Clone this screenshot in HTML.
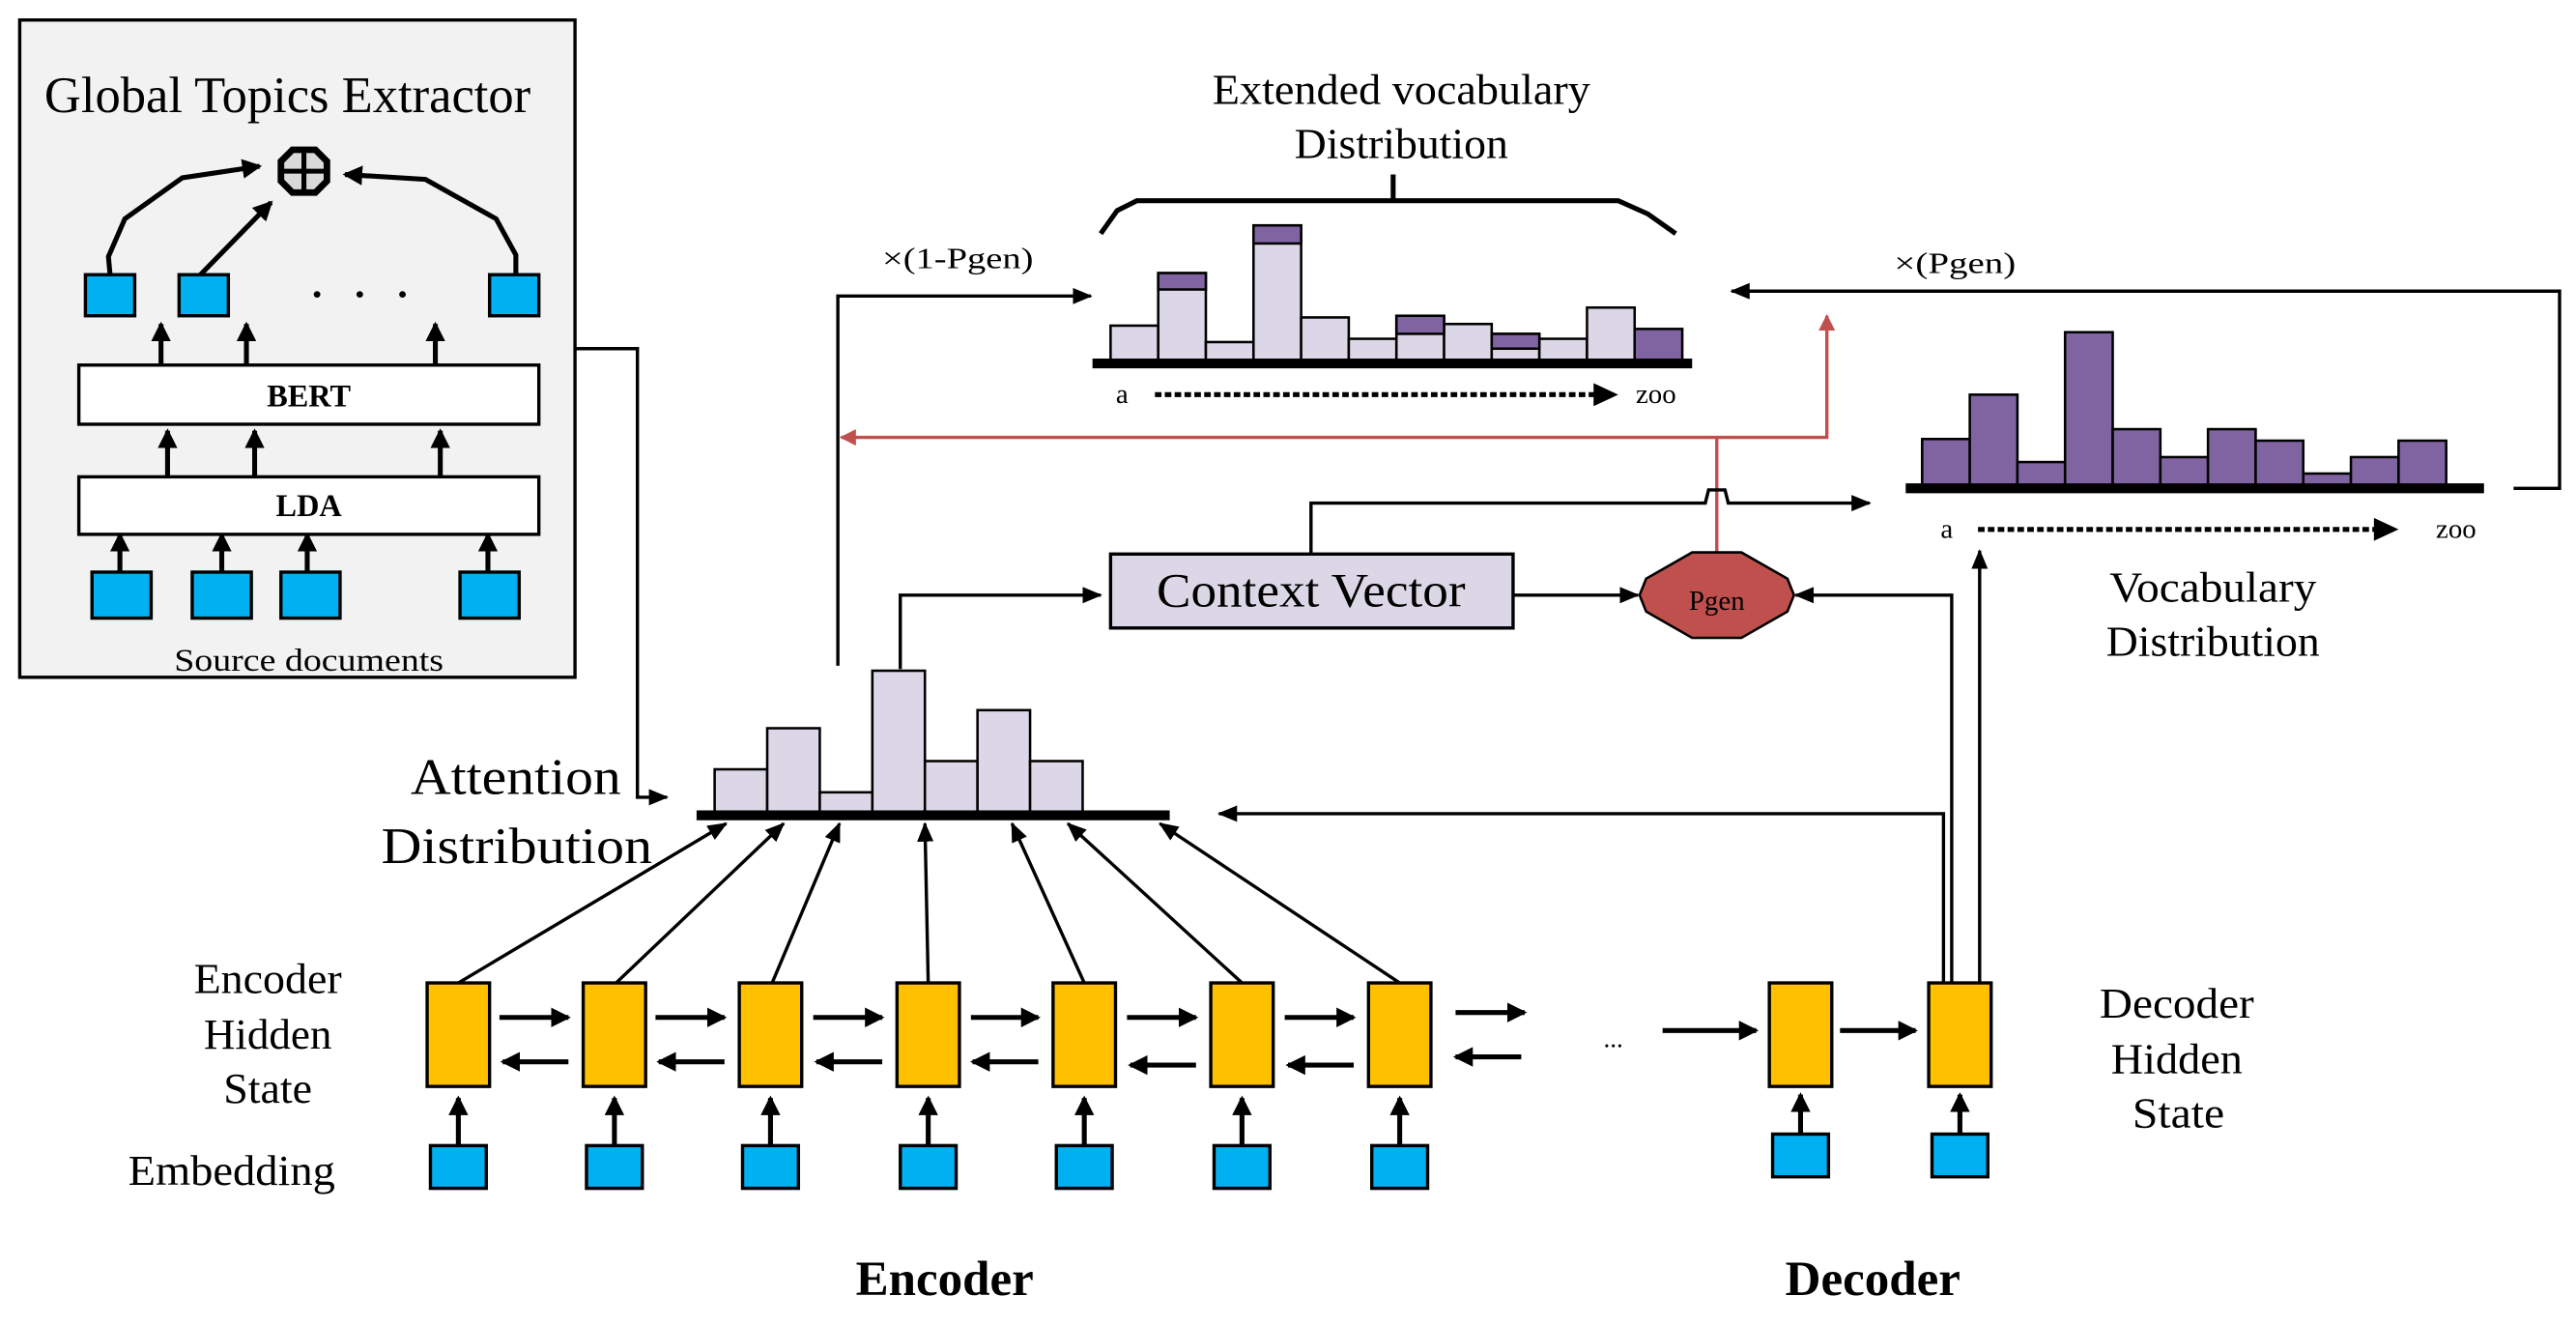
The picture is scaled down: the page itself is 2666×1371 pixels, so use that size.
<!DOCTYPE html>
<html><head><meta charset="utf-8"><style>
html,body{margin:0;padding:0;background:#fff}
svg{display:block}
text{font-family:"Liberation Serif",serif;fill:#000}
</style></head><body>
<svg width="2666" height="1371" viewBox="0 0 1568 806" xmlns="http://www.w3.org/2000/svg">
<defs>
<marker id="a" markerWidth="6" markerHeight="5" refX="5.5" refY="2.5" orient="auto" markerUnits="strokeWidth"><path d="M0,0 L6,2.5 L0,5 z" fill="#000"/></marker>
<marker id="b" markerWidth="4" markerHeight="4" refX="3.5" refY="2" orient="auto" markerUnits="strokeWidth"><path d="M0,0 L4,2 L0,4 z" fill="#000"/></marker>
<marker id="r" markerWidth="5" markerHeight="5" refX="4.5" refY="2.5" orient="auto" markerUnits="strokeWidth"><path d="M0,0 L5,2.5 L0,5 z" fill="#c0504d"/></marker>
</defs>
<rect x="12" y="12" width="338" height="400" fill="#f2f2f2" stroke="#000" stroke-width="2"/>
<text x="27" y="68" font-size="31" textLength="296" lengthAdjust="spacingAndGlyphs">Global Topics Extractor</text>
<polygon points="178,91 192,91 199,98 199,110 192,117 178,117 171,110 171,98" fill="#d9d9d9" stroke="#000" stroke-width="4"/>
<line x1="185" y1="91" x2="185" y2="117" stroke="#000" stroke-width="3"/>
<line x1="171" y1="104" x2="199" y2="104" stroke="#000" stroke-width="3"/>
<g fill="none" stroke="#000" stroke-width="3">
<polyline points="67,167 66,156 76,133 111,108 158,101" marker-end="url(#b)"/>
<line x1="122" y1="167" x2="165" y2="123" marker-end="url(#b)"/>
<polyline points="314,167 314,155 302,133 259,109 210,106" marker-end="url(#b)"/>
</g>
<g fill="#00b0f0" stroke="#000" stroke-width="2">
<rect x="52" y="167" width="30" height="25"/><rect x="109" y="167" width="30" height="25"/><rect x="298" y="167" width="30" height="25"/>
<rect x="56" y="348" width="36" height="28"/><rect x="117" y="348" width="36" height="28"/><rect x="171" y="348" width="36" height="28"/><rect x="280" y="348" width="36" height="28"/>
</g>
<g fill="#000"><circle cx="193" cy="179" r="2"/><circle cx="219" cy="179" r="2"/><circle cx="245" cy="179" r="2"/></g>
<g stroke="#000" stroke-width="3" marker-end="url(#b)">
<line x1="98" y1="222" x2="98" y2="197"/><line x1="150" y1="222" x2="150" y2="197"/><line x1="265" y1="222" x2="265" y2="197"/>
<line x1="102" y1="290" x2="102" y2="262"/><line x1="155" y1="290" x2="155" y2="262"/><line x1="268" y1="290" x2="268" y2="262"/>
<line x1="73" y1="348" x2="73" y2="325"/><line x1="135" y1="348" x2="135" y2="325"/><line x1="187" y1="348" x2="187" y2="325"/><line x1="297" y1="348" x2="297" y2="325"/>
</g>
<rect x="48" y="222" width="280" height="36" fill="#fff" stroke="#000" stroke-width="2"/>
<text x="188" y="247" font-size="19" font-weight="bold" text-anchor="middle">BERT</text>
<rect x="48" y="290" width="280" height="35" fill="#fff" stroke="#000" stroke-width="2"/>
<text x="188" y="314" font-size="19" font-weight="bold" text-anchor="middle">LDA</text>
<text x="106" y="408" font-size="19" textLength="164" lengthAdjust="spacingAndGlyphs">Source documents</text>
<polyline points="350,212 388,212 388,485 406,485" fill="none" stroke="#000" stroke-width="2" marker-end="url(#a)"/>

<text x="738" y="63" font-size="26" textLength="230" lengthAdjust="spacingAndGlyphs">Extended vocabulary</text>
<text x="788" y="96" font-size="26" textLength="130" lengthAdjust="spacingAndGlyphs">Distribution</text>
<polyline points="670,142 680,128 692,122 985,122 1003,130 1020,142" fill="none" stroke="#000" stroke-width="3"/>
<line x1="848" y1="106" x2="848" y2="122" stroke="#000" stroke-width="3"/>
<g stroke="#000" stroke-width="1.5" fill="#dcd7e6">
<rect x="676" y="198" width="29" height="22"/><rect x="705" y="166" width="29" height="54"/><rect x="734" y="208" width="29" height="12"/><rect x="763" y="137" width="29" height="83"/><rect x="792" y="193" width="29" height="27"/><rect x="821" y="206" width="29" height="14"/><rect x="850" y="192" width="29" height="28"/><rect x="879" y="197" width="29" height="23"/><rect x="908" y="203" width="29" height="17"/><rect x="937" y="206" width="29" height="14"/><rect x="966" y="187" width="29" height="33"/>
</g>
<g stroke="#000" stroke-width="1.5" fill="#8064a2">
<rect x="705" y="166" width="29" height="10"/><rect x="763" y="137" width="29" height="11"/><rect x="850" y="192" width="29" height="11"/><rect x="908" y="203" width="29" height="9"/><rect x="995" y="200" width="29" height="20"/>
</g>
<line x1="665" y1="221" x2="1030" y2="221" stroke="#000" stroke-width="6"/>
<text x="683" y="245" font-size="17" text-anchor="middle">a</text>
<line x1="703" y1="240" x2="975" y2="240" stroke="#000" stroke-width="3" stroke-dasharray="4,2"/>
<path d="M970,233 L985,240 L970,247z" fill="#000"/>
<text x="1008" y="245" font-size="17" text-anchor="middle">zoo</text>
<text x="537" y="163" font-size="18" textLength="92" lengthAdjust="spacingAndGlyphs">×(1-Pgen)</text>
<polyline points="510,405 510,180 664,180" fill="none" stroke="#000" stroke-width="2" marker-end="url(#a)"/>

<polyline points="1045,336 1045,266 512,266" fill="none" stroke="#c0504d" stroke-width="2" marker-end="url(#r)"/>
<polyline points="1045,266 1112,266 1112,192" fill="none" stroke="#c0504d" stroke-width="2" marker-end="url(#r)"/>

<g stroke="#000" stroke-width="1.5" fill="#8064a2">
<rect x="1170" y="267" width="29" height="30"/><rect x="1199" y="240" width="29" height="57"/><rect x="1228" y="281" width="29" height="16"/><rect x="1257" y="202" width="29" height="95"/><rect x="1286" y="261" width="29" height="36"/><rect x="1315" y="278" width="29" height="19"/><rect x="1344" y="261" width="29" height="36"/><rect x="1373" y="268" width="29" height="29"/><rect x="1402" y="288" width="29" height="9"/><rect x="1431" y="278" width="29" height="19"/><rect x="1460" y="268" width="29" height="29"/>
</g>
<line x1="1160" y1="297" x2="1512" y2="297" stroke="#000" stroke-width="6"/>
<text x="1185" y="327" font-size="17" text-anchor="middle">a</text>
<line x1="1204" y1="322" x2="1450" y2="322" stroke="#000" stroke-width="3" stroke-dasharray="4,2"/>
<path d="M1445,315 L1460,322 L1445,329z" fill="#000"/>
<text x="1495" y="327" font-size="17" text-anchor="middle">zoo</text>
<text x="1284" y="366" font-size="26" textLength="126" lengthAdjust="spacingAndGlyphs">Vocabulary</text>
<text x="1282" y="399" font-size="26" textLength="130" lengthAdjust="spacingAndGlyphs">Distribution</text>
<text x="1153" y="166" font-size="18" textLength="74" lengthAdjust="spacingAndGlyphs">×(Pgen)</text>
<polyline points="1530,297 1558,297 1558,177 1054,177" fill="none" stroke="#000" stroke-width="2" marker-end="url(#a)"/>

<polyline points="798,337 798,306 1038,306 1040,298 1050,298 1052,306 1138,306" fill="none" stroke="#000" stroke-width="2" marker-end="url(#a)"/>
<rect x="676" y="337" width="245" height="45" fill="#dcd7e6" stroke="#000" stroke-width="2"/>
<text x="704" y="369" font-size="29" textLength="188" lengthAdjust="spacingAndGlyphs">Context Vector</text>
<line x1="921" y1="362" x2="997" y2="362" stroke="#000" stroke-width="2" marker-end="url(#a)"/>
<polygon points="1030,336 1060,336 1088,352 1092,362 1088,372 1060,388 1030,388 1002,372 998,362 1002,352" fill="#c0504d" stroke="#000" stroke-width="1.5"/>
<text x="1045" y="371" font-size="17" text-anchor="middle">Pgen</text>
<polyline points="1188,598 1188,362 1093,362" fill="none" stroke="#000" stroke-width="2" marker-end="url(#a)"/>
<line x1="1205" y1="598" x2="1205" y2="335" stroke="#000" stroke-width="2" marker-end="url(#a)"/>
<polyline points="1183,598 1183,495 742,495" fill="none" stroke="#000" stroke-width="2" marker-end="url(#a)"/>
<polyline points="548,407 548,362 670,362" fill="none" stroke="#000" stroke-width="2" marker-end="url(#a)"/>

<g stroke="#000" stroke-width="1.5" fill="#dcd7e6">
<rect x="435" y="468" width="32" height="27"/><rect x="467" y="443" width="32" height="52"/><rect x="499" y="482" width="32" height="13"/><rect x="531" y="408" width="32" height="87"/><rect x="563" y="463" width="32" height="32"/><rect x="595" y="432" width="32" height="63"/><rect x="627" y="463" width="32" height="32"/>
</g>
<line x1="424" y1="496" x2="712" y2="496" stroke="#000" stroke-width="6"/>
<text x="250" y="483" font-size="31" textLength="128" lengthAdjust="spacingAndGlyphs">Attention</text>
<text x="232" y="525" font-size="31" textLength="165" lengthAdjust="spacingAndGlyphs">Distribution</text>
<g stroke="#000" stroke-width="2" marker-end="url(#a)">
<line x1="279" y1="598" x2="442" y2="501"/><line x1="375" y1="598" x2="477" y2="501"/><line x1="470" y1="598" x2="511" y2="501"/><line x1="565" y1="598" x2="563" y2="501"/><line x1="660" y1="598" x2="616" y2="501"/><line x1="756" y1="598" x2="650" y2="501"/><line x1="852" y1="598" x2="706" y2="501"/>
</g>

<g fill="#ffc000" stroke="#000" stroke-width="2">
<rect x="260" y="598" width="38" height="63"/><rect x="355" y="598" width="38" height="63"/><rect x="450" y="598" width="38" height="63"/><rect x="546" y="598" width="38" height="63"/><rect x="641" y="598" width="38" height="63"/><rect x="737" y="598" width="38" height="63"/><rect x="833" y="598" width="38" height="63"/><rect x="1077" y="598" width="38" height="63"/><rect x="1174" y="598" width="38" height="63"/>
</g>
<g fill="#00b0f0" stroke="#000" stroke-width="2">
<rect x="262" y="697" width="34" height="26"/><rect x="357" y="697" width="34" height="26"/><rect x="452" y="697" width="34" height="26"/><rect x="548" y="697" width="34" height="26"/><rect x="643" y="697" width="34" height="26"/><rect x="739" y="697" width="34" height="26"/><rect x="835" y="697" width="34" height="26"/><rect x="1079" y="690" width="34" height="26"/><rect x="1176" y="690" width="34" height="26"/>
</g>
<g stroke="#000" stroke-width="3" marker-end="url(#b)">
<line x1="279" y1="697" x2="279" y2="668"/><line x1="374" y1="697" x2="374" y2="668"/><line x1="469" y1="697" x2="469" y2="668"/><line x1="565" y1="697" x2="565" y2="668"/><line x1="660" y1="697" x2="660" y2="668"/><line x1="756" y1="697" x2="756" y2="668"/><line x1="852" y1="697" x2="852" y2="668"/><line x1="1096" y1="690" x2="1096" y2="666"/><line x1="1193" y1="690" x2="1193" y2="666"/>
<line x1="304" y1="619" x2="346" y2="619"/><line x1="399" y1="619" x2="441" y2="619"/><line x1="495" y1="619" x2="537" y2="619"/><line x1="591" y1="619" x2="632" y2="619"/><line x1="686" y1="619" x2="728" y2="619"/><line x1="782" y1="619" x2="824" y2="619"/><line x1="886" y1="616" x2="928" y2="616"/>
<line x1="346" y1="646" x2="306" y2="646"/><line x1="441" y1="646" x2="401" y2="646"/><line x1="537" y1="646" x2="497" y2="646"/><line x1="632" y1="646" x2="592" y2="646"/><line x1="728" y1="648" x2="688" y2="648"/><line x1="824" y1="648" x2="784" y2="648"/><line x1="926" y1="643" x2="886" y2="643"/>
<line x1="1012" y1="627" x2="1069" y2="627"/><line x1="1120" y1="627" x2="1166" y2="627"/>
</g>
<text x="982" y="637" font-size="16" text-anchor="middle">...</text>
<text x="118" y="604" font-size="26" textLength="90" lengthAdjust="spacingAndGlyphs">Encoder</text>
<text x="124" y="638" font-size="26" textLength="78" lengthAdjust="spacingAndGlyphs">Hidden</text>
<text x="136" y="671" font-size="26" textLength="54" lengthAdjust="spacingAndGlyphs">State</text>
<text x="78" y="721" font-size="26" textLength="126" lengthAdjust="spacingAndGlyphs">Embedding</text>
<text x="1278" y="619" font-size="26" textLength="94" lengthAdjust="spacingAndGlyphs">Decoder</text>
<text x="1285" y="653" font-size="26" textLength="80" lengthAdjust="spacingAndGlyphs">Hidden</text>
<text x="1298" y="686" font-size="26" textLength="56" lengthAdjust="spacingAndGlyphs">State</text>
<text x="575" y="788" font-size="30" font-weight="bold" text-anchor="middle">Encoder</text>
<text x="1140" y="788" font-size="30" font-weight="bold" text-anchor="middle">Decoder</text>
</svg>
</body></html>
